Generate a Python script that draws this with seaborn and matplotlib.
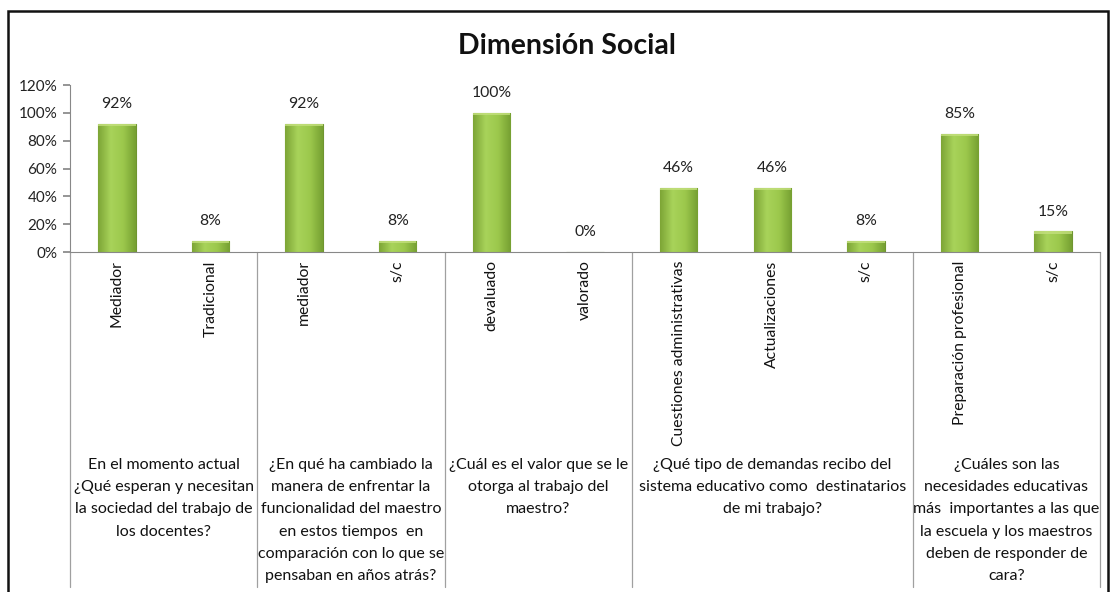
import numpy as np
import pandas as pd
import matplotlib
matplotlib.use("Agg")
import matplotlib.pyplot as plt
import matplotlib.transforms as mtransforms
from matplotlib.colors import LinearSegmentedColormap
from matplotlib.patches import Rectangle
import seaborn as sns

# --- data ---
categories = ["Mediador", "Tradicional", "mediador", "s/c", "devaluado", "valorado",
              "Cuestiones administrativas", "Actualizaciones", "s/c",
              "Preparación profesional", "s/c"]
values = [0.92, 0.08, 0.92, 0.08, 1.00, 0.00, 0.46, 0.46, 0.08, 0.85, 0.15]
group_sizes = [2, 2, 2, 3, 2]
group_labels = [
    "En el momento actual\n¿Qué esperan y necesitan\nla sociedad del trabajo de\nlos docentes?",
    "¿En qué ha cambiado la\nmanera de enfrentar la\nfuncionalidad del maestro\nen estos tiempos  en\ncomparación con lo que se\npensaban en años atrás?",
    "¿Cuál es el valor que se le\notorga al trabajo del\nmaestro?",
    "¿Qué tipo de demandas recibo del\nsistema educativo como  destinatarios\nde mi trabajo?",
    "¿Cuáles son las\nnecesidades educativas\nmás  importantes a las que\nla escuela y los maestros\ndeben de responder de\ncara?",
]
title = "Dimensión Social"

sns.set_theme(style="white")
plt.rcParams["font.family"] = ["Lato", "DejaVu Sans"]

W, H = 1112, 592
fig = plt.figure(figsize=(W / 100, H / 100), dpi=100)
fig.patch.set_facecolor("white")

# plot area in pixel coords: x 70..1100, y 85 (120%) .. 252 (0%)
ax = fig.add_axes([70 / W, 1 - 252 / H, (1100 - 70) / W, (252 - 85) / H])

df = pd.DataFrame({"pos": range(len(categories)), "value": values})
sns.barplot(data=df, x="pos", y="value", color="#9BC34C", width=0.4,
            edgecolor="#6F9530", linewidth=0.8, ax=ax, zorder=2)

# horizontal gradient on the bars
cmap = LinearSegmentedColormap.from_list("g", ["#7DA536", "#A8D35A", "#9CC84C", "#76A032"])
grad = np.linspace(0, 1, 64).reshape(1, -1)
for p in list(ax.patches):
    x0, y0 = p.get_x(), p.get_y()
    w, h = p.get_width(), p.get_height()
    if h <= 0:
        continue
    im = ax.imshow(grad, extent=[x0, x0 + w, y0, y0 + h], aspect="auto",
                   cmap=cmap, zorder=2.5, interpolation="bicubic")
    im.set_clip_path(p)
    # lighter bevel at the top
    ax.add_patch(Rectangle((x0, y0 + h - 0.018), w, 0.018, facecolor="#C4E07E",
                           edgecolor="none", zorder=2.6, alpha=0.8))

ax.set_xlim(-0.5, len(categories) - 0.5)
ax.set_ylim(0, 1.2)
ticks = np.arange(0, 1.21, 0.2)
ax.set_yticks(ticks)
ax.set_yticklabels([f"{int(round(v * 100))}%" for v in ticks],
                   fontsize=11, color="#222222")
ax.set_xticks(range(len(categories)))
ax.set_xticklabels(categories, rotation=90, fontsize=11.3, color="#111111", va="top")
ax.tick_params(axis="y", length=5, color="#888888", left=True, pad=4)
ax.tick_params(axis="x", length=0, pad=6)
ax.set_xlabel("")
ax.set_ylabel("")

for s in ["top", "right"]:
    ax.spines[s].set_visible(False)
for s in ["left", "bottom"]:
    ax.spines[s].set_color("#888888")
    ax.spines[s].set_linewidth(0.8)

# value labels
for i, v in enumerate(values):
    ax.annotate(f"{int(round(v * 100))}%", xy=(i, v), xytext=(0, 9),
                textcoords="offset points", ha="center", va="bottom",
                fontsize=11.3, color="#222222")

# group dividers and group labels below the axis
trans = mtransforms.blended_transform_factory(ax.transData, ax.transAxes)
bottom_axes = (252 - 587) / (252 - 85)
label_top = (252 - 458) / (252 - 85)
edges = np.concatenate([[0], np.cumsum(group_sizes)]) - 0.5
for e in edges:
    ax.plot([e, e], [0, bottom_axes], transform=trans, color="#A0A0A0",
            linewidth=0.9, clip_on=False)
for k, lab in enumerate(group_labels):
    cx = (edges[k] + edges[k + 1]) / 2
    ax.text(cx, label_top, lab, transform=trans, ha="center", va="top",
            fontsize=11.5, color="#111111", linespacing=1.75, clip_on=False)

# title
fig.text(567 / W, 1 - 46 / H, title, ha="center", va="center",
         fontsize=20.5, fontweight="bold", color="#111111")

# outer chart border
fig.patches.append(Rectangle((8 / W, -0.05), (1108 - 8) / W, 1 - 11 / H + 0.05,
                             transform=fig.transFigure, fill=False,
                             edgecolor="#111111", linewidth=1.8, zorder=10))

fig.savefig("out.png", dpi=100)
